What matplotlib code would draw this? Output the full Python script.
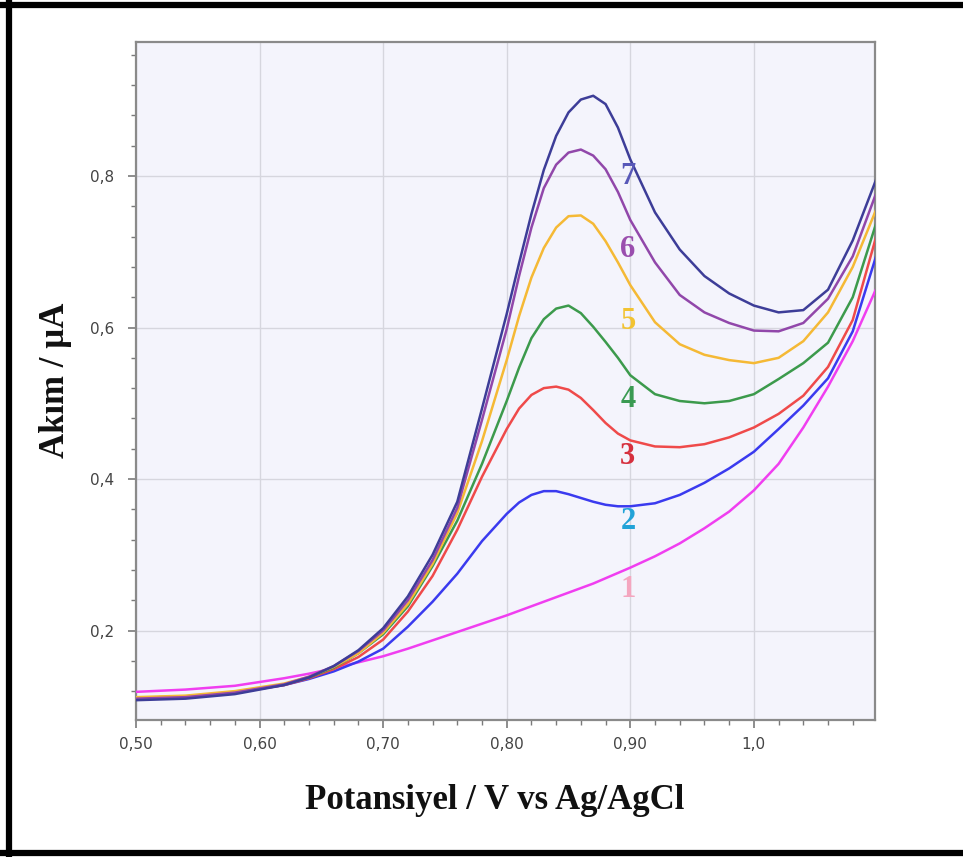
import matplotlib
matplotlib.use("Agg")
import matplotlib.pyplot as plt
from matplotlib.lines import Line2D
from matplotlib.ticker import MultipleLocator

# ── data ───────────────────────────────────────────────────────────────────────
potential = [0.50, 0.54, 0.58, 0.62, 0.64, 0.66, 0.68, 0.70, 0.72, 0.74, 0.76,
             0.78, 0.80, 0.81, 0.82, 0.83, 0.84, 0.85, 0.86, 0.87, 0.88, 0.89,
             0.90, 0.92, 0.94, 0.96, 0.98, 1.00, 1.02, 1.04, 1.06, 1.08, 1.10]

curve1 = [0.119, 0.122, 0.127, 0.137, 0.143, 0.150, 0.158, 0.166, 0.176, 0.187, 0.198,
          0.209, 0.220, 0.226, 0.232, 0.238, 0.244, 0.250, 0.256, 0.262, 0.269, 0.276,
          0.283, 0.298, 0.315, 0.335, 0.357, 0.385, 0.420, 0.468, 0.522, 0.582, 0.655]
curve2 = [0.111, 0.113, 0.118, 0.128, 0.136, 0.146, 0.159, 0.176, 0.205, 0.238, 0.275,
          0.318, 0.354, 0.369, 0.379, 0.384, 0.384, 0.380, 0.375, 0.370, 0.366, 0.364,
          0.364, 0.368, 0.379, 0.395, 0.414, 0.436, 0.466, 0.497, 0.533, 0.595, 0.700]
curve3 = [0.111, 0.113, 0.118, 0.128, 0.137, 0.149, 0.165, 0.188, 0.225, 0.272, 0.333,
          0.403, 0.466, 0.493, 0.511, 0.520, 0.522, 0.518, 0.507, 0.491, 0.474, 0.460,
          0.451, 0.443, 0.442, 0.446, 0.455, 0.468, 0.486, 0.510, 0.548, 0.610, 0.726]
curve4 = [0.110, 0.112, 0.118, 0.129, 0.138, 0.151, 0.170, 0.195, 0.232, 0.285, 0.345,
          0.420, 0.503, 0.547, 0.586, 0.611, 0.625, 0.629, 0.619, 0.601, 0.581, 0.560,
          0.537, 0.512, 0.503, 0.500, 0.503, 0.512, 0.532, 0.553, 0.580, 0.640, 0.743]
curve5 = [0.112, 0.114, 0.120, 0.130, 0.139, 0.152, 0.170, 0.197, 0.235, 0.288, 0.355,
          0.450, 0.557, 0.615, 0.666, 0.705, 0.732, 0.747, 0.748, 0.737, 0.714, 0.686,
          0.656, 0.607, 0.578, 0.564, 0.557, 0.553, 0.560, 0.582, 0.620, 0.680, 0.760]
curve6 = [0.110, 0.112, 0.118, 0.129, 0.139, 0.153, 0.173, 0.200, 0.240, 0.293, 0.362,
          0.478, 0.598, 0.668, 0.732, 0.784, 0.815, 0.831, 0.835, 0.827, 0.809, 0.779,
          0.742, 0.686, 0.643, 0.620, 0.606, 0.596, 0.595, 0.606, 0.638, 0.694, 0.782]
curve7 = [0.108, 0.110, 0.116, 0.128, 0.138, 0.153, 0.174, 0.203, 0.245, 0.300, 0.370,
          0.493, 0.618, 0.685, 0.750, 0.808, 0.853, 0.884, 0.901, 0.906, 0.895, 0.864,
          0.822, 0.752, 0.703, 0.668, 0.645, 0.629, 0.620, 0.623, 0.650, 0.715, 0.800]

curves = [curve1, curve2, curve3, curve4, curve5, curve6, curve7]
labels = ["1", "2", "3", "4", "5", "6", "7"]
label_y = [0.254, 0.344, 0.430, 0.505, 0.608, 0.703, 0.800]
label_x = 0.898

line_colors = ["#f03ef0", "#3a3aef", "#ef4a4a", "#3c9a4c", "#f5b935", "#9147aa", "#3d3d98"]
label_colors = ["#f4a6bf", "#22a3d8", "#d6303e", "#3a9a52", "#f2c332", "#9a4eae", "#5858b8"]

xtick_vals = [0.5, 0.6, 0.7, 0.8, 0.9, 1.0]
xtick_labels = ["0,50", "0,60", "0,70", "0,80", "0,90", "1,0"]
ytick_vals = [0.2, 0.4, 0.6, 0.8]
ytick_labels = ["0,2", "0,4", "0,6", "0,8"]

# ── figure ────────────────────────────────────────────────────────────────────
fig = plt.figure(figsize=(9.63, 8.57), dpi=100)
fig.patch.set_facecolor("white")
ax = fig.add_axes([0.1412, 0.160, 0.7674, 0.791])
ax.set_facecolor("#f4f4fc")

for y, c in zip(curves, line_colors):
    ax.plot(potential, y, color=c, linewidth=1.8, solid_capstyle="round",
            solid_joinstyle="round", zorder=3)

for lab, ly, lc in zip(labels, label_y, label_colors):
    ax.text(label_x, ly, lab, color=lc, fontsize=22, fontweight="bold",
            family="Liberation Serif", ha="center", va="center", zorder=4)

ax.set_xlim(0.5, 1.098)
ax.set_ylim(0.082, 0.977)
ax.set_xticks(xtick_vals)
ax.set_xticklabels(xtick_labels)
ax.set_yticks(ytick_vals)
ax.set_yticklabels(ytick_labels)
ax.xaxis.set_minor_locator(MultipleLocator(0.02))
ax.yaxis.set_minor_locator(MultipleLocator(0.04))

ax.grid(True, which="major", color="#d6d6de", linewidth=1.0, zorder=0)
ax.set_axisbelow(True)

for s in ax.spines.values():
    s.set_color("#8a8a8a")
    s.set_linewidth(1.6)

ax.tick_params(which="major", direction="out", length=6, width=1.2, color="#7a7a7a",
               labelsize=11, labelcolor="#444444", pad=6)
ax.tick_params(axis="y", which="major", pad=10)
ax.tick_params(which="minor", direction="out", length=3.5, width=1.0, color="#7a7a7a")

# axis titles
fig.text(0.514, 0.066, "Potansiyel / V vs Ag/AgCl", ha="center", va="center",
         fontsize=25, fontweight="bold", family="Liberation Serif", color="#111111")
fig.text(0.058, 0.556, "Akım / µA", ha="center", va="center", rotation=90,
         fontsize=25, fontweight="bold", family="Liberation Serif", color="#111111")

# black frame (top, left, bottom)
lw = 4.5
fig.add_artist(Line2D([0.0, 1.0], [0.994, 0.994], color="black", linewidth=lw))
fig.add_artist(Line2D([0.0095, 0.0095], [0.0, 1.0], color="black", linewidth=lw))
fig.add_artist(Line2D([0.0, 1.0], [0.005, 0.005], color="black", linewidth=lw))

fig.savefig("out.png", dpi=100, facecolor="white")
